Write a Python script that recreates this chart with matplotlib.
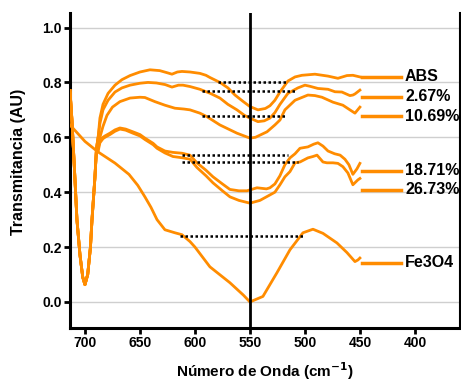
import matplotlib
matplotlib.use("Agg")
import matplotlib.pyplot as plt

plt.rcParams['font.family'] = ['Liberation Sans', 'DejaVu Sans']
plt.rcParams['font.weight'] = 'bold'
plt.rcParams['mathtext.default'] = 'bf'

ORANGE = '#FF8C00'

# shared absorption dip of the composite samples
dip_x = [713.6, 711.8, 709.5, 707.3, 704.5, 702.0, 700.0, 697.5, 695.0, 693.6, 691.0, 689.5, 688.0]
dip_y = [0.77, 0.66, 0.48, 0.30, 0.17, 0.09, 0.063, 0.10, 0.20, 0.30, 0.45, 0.56, 0.60]

abs_x = dip_x + [686.4, 683.6, 679.0, 672.7, 666.4, 659.0, 650.0, 640.9, 632.0, 625.0, 620.9, 616.0,
                 611.8, 604.5, 595.5, 590.0, 586.4, 577.3, 570.0, 563.6, 556.0, 550.0, 542.7, 536.0,
                 531.8, 527.3, 522.7, 515.5, 509.0, 502.7, 490.9, 479.0, 470.0, 461.8, 456.4, 450.0]
abs_y = dip_y + [0.67, 0.72, 0.76, 0.79, 0.81, 0.825, 0.838, 0.846, 0.843, 0.835, 0.83, 0.838,
                 0.84, 0.838, 0.833, 0.826, 0.818, 0.80, 0.78, 0.754, 0.73, 0.712, 0.70, 0.705,
                 0.715, 0.735, 0.765, 0.805, 0.82, 0.826, 0.83, 0.823, 0.815, 0.825, 0.826, 0.82]

s267_x = dip_x + [686.4, 683.6, 679.0, 672.7, 666.4, 659.0, 650.0, 642.7, 635.0, 627.0, 620.9, 615.0,
                  610.9, 604.5, 595.5, 586.0, 577.3, 570.0, 561.8, 555.0, 550.0, 542.7, 537.0, 531.8,
                  527.3, 522.7, 515.5, 506.4, 500.0, 495.5, 488.2, 479.0, 472.7, 466.4, 459.1, 456.4,
                  454.5, 450.0]
s267_y = dip_y + [0.65, 0.70, 0.735, 0.765, 0.78, 0.79, 0.797, 0.80, 0.798, 0.792, 0.783, 0.79,
                  0.79, 0.785, 0.775, 0.76, 0.743, 0.72, 0.70, 0.68, 0.67, 0.657, 0.66, 0.67,
                  0.69, 0.72, 0.76, 0.78, 0.79, 0.786, 0.778, 0.775, 0.766, 0.765, 0.752, 0.754,
                  0.758, 0.772]

s1069_x = dip_x + [686.4, 683.6, 680.0, 675.0, 668.2, 659.0, 650.0, 645.5, 636.4, 627.3, 618.2, 610.0,
                   604.5, 595.5, 589.0, 577.3, 561.8, 550.0, 545.0, 534.5, 527.3, 522.7, 518.2, 509.0,
                   497.3, 490.9, 484.5, 474.5, 465.5, 459.1, 454.5, 450.0]
s1069_y = dip_y + [0.60, 0.64, 0.68, 0.71, 0.73, 0.743, 0.746, 0.745, 0.73, 0.717, 0.706, 0.703,
                   0.70, 0.688, 0.675, 0.645, 0.615, 0.597, 0.60, 0.62, 0.645, 0.663, 0.70, 0.735,
                   0.754, 0.752, 0.746, 0.728, 0.717, 0.70, 0.688, 0.71]

s1871_x = dip_x[:-1] + [688.0, 686.4, 683.6, 681.8, 677.3, 672.7, 668.2, 663.0, 656.4, 650.0, 645.5,
                        638.0, 634.5, 627.3, 620.0, 611.8, 604.5, 598.2, 590.0, 583.6, 575.0, 568.2,
                        560.0, 552.7, 543.6, 535.0, 531.8, 527.3, 522.7, 518.2, 513.6, 509.0, 504.5,
                        497.3, 492.0, 488.2, 483.6, 479.0, 473.0, 468.0, 463.6, 460.0, 456.4, 452.7, 450.0]
s1871_y = dip_y[:-1] + [0.56, 0.59, 0.60, 0.605, 0.615, 0.627, 0.634, 0.63, 0.62, 0.61, 0.597,
                        0.578, 0.565, 0.55, 0.545, 0.542, 0.535, 0.507, 0.48, 0.456, 0.43, 0.41,
                        0.405, 0.405, 0.416, 0.412, 0.416, 0.43, 0.46, 0.50, 0.525, 0.54, 0.56,
                        0.565, 0.575, 0.58, 0.568, 0.55, 0.54, 0.535, 0.52, 0.50, 0.465, 0.485, 0.505]

s2673_x = dip_x[:-1] + [688.0, 686.4, 683.6, 681.8, 677.3, 672.7, 668.2, 663.0, 656.4, 650.0, 645.5,
                        638.0, 634.5, 627.3, 620.0, 610.9, 604.5, 598.2, 590.0, 583.6, 575.0, 568.2,
                        560.0, 550.0, 540.9, 531.8, 527.3, 522.7, 518.2, 513.6, 509.0, 504.5, 497.3,
                        492.7, 489.0, 483.6, 480.0, 474.5, 470.0, 465.5, 460.9, 456.4, 451.8, 450.0]
s2673_y = dip_y[:-1] + [0.55, 0.58, 0.595, 0.60, 0.61, 0.622, 0.63, 0.626, 0.615, 0.605, 0.592,
                        0.573, 0.56, 0.543, 0.53, 0.525, 0.52, 0.49, 0.46, 0.434, 0.405, 0.383,
                        0.37, 0.36, 0.37, 0.39, 0.40, 0.427, 0.456, 0.475, 0.507, 0.51, 0.525,
                        0.53, 0.535, 0.51, 0.507, 0.507, 0.505, 0.493, 0.47, 0.427, 0.445, 0.45]

fe_x = [713.6, 700.0, 688.2, 672.7, 660.0, 652.0, 645.5, 640.0, 634.5, 627.3, 618.2, 611.8,
        604.5, 600.0, 586.4, 568.2, 556.0, 550.0, 538.2, 525.5, 513.6, 501.8, 492.7, 483.6,
        470.9, 461.8, 454.5, 451.8, 450.0]
fe_y = [0.645, 0.585, 0.547, 0.506, 0.465, 0.425, 0.383, 0.345, 0.30, 0.263, 0.252, 0.245,
        0.22, 0.20, 0.128, 0.07, 0.025, 0.0, 0.02, 0.106, 0.19, 0.252, 0.265, 0.25,
        0.215, 0.18, 0.147, 0.153, 0.16]

labels = ['ABS', '2.67%', '10.69%', '18.71%', '26.73%', 'Fe3O4']
label_y = [0.82, 0.748, 0.677, 0.478, 0.408, 0.143]

# dotted reference levels: (y, x_start, x_end)
dot_y = [0.80, 0.77, 0.679, 0.536, 0.511, 0.241]
dot_x0 = [579.1, 593.6, 593.6, 611.8, 611.8, 613.6]
dot_x1 = [516.0, 509.0, 516.0, 515.5, 506.0, 501.8]

series = [(abs_x, abs_y), (s267_x, s267_y), (s1069_x, s1069_y),
          (s1871_x, s1871_y), (s2673_x, s2673_y), (fe_x, fe_y)]

fig = plt.figure(figsize=(4.61, 3.82), dpi=100)
ax = fig.add_axes([70/461, 1-328/382, 390/461, 315/382])

ax.set_xlim(713.6, 359)
ax.set_ylim(-0.095, 1.053)

for yv in [0.0, 0.2, 0.4, 0.6, 0.8, 1.0]:
    ax.axhline(yv, color='#cfcfcf', lw=1.0, zorder=0)

for (xs, ys) in series:
    ax.plot(xs, ys, color=ORANGE, lw=2.0, solid_joinstyle='round', zorder=3)

for yv, x0, x1 in zip(dot_y, dot_x0, dot_x1):
    ax.plot([x0, x1], [yv, yv], color='black', lw=1.8, ls=(0, (1, 1)), zorder=4)

ax.axvline(550, color='black', lw=2.0, zorder=5)

for lab, yv in zip(labels, label_y):
    ax.plot([448, 413], [yv, yv], color=ORANGE, lw=2.5, zorder=3, clip_on=False)
    ax.text(409, yv, lab, ha='left', va='center', fontsize=11.5, fontweight='bold', clip_on=False)

ax.set_xticks([700, 650, 600, 550, 500, 450, 400])
ax.set_yticks([0.0, 0.2, 0.4, 0.6, 0.8, 1.0])
ax.set_yticklabels(['0.0', '0.2', '0.4', '0.6', '0.8', '1.0'])
ax.tick_params(axis='both', direction='out', length=4, width=2, labelsize=10, pad=2)
for t in ax.get_xticklabels() + ax.get_yticklabels():
    t.set_fontweight('bold')

ax.spines['top'].set_visible(False)
ax.spines['left'].set_linewidth(2.2)
ax.spines['bottom'].set_linewidth(2.2)
ax.spines['right'].set_linewidth(1.5)

fig.text(18/461, 1-162/382, 'Transmitancia (AU)', rotation=90, ha='center', va='center',
         fontsize=11.5, fontweight='bold')
fig.text(265/461, 1-371/382, 'Número de Onda (cm$^{-1}$)', ha='center', va='center',
         fontsize=11, fontweight='bold')

fig.savefig('out.png', dpi=100)
